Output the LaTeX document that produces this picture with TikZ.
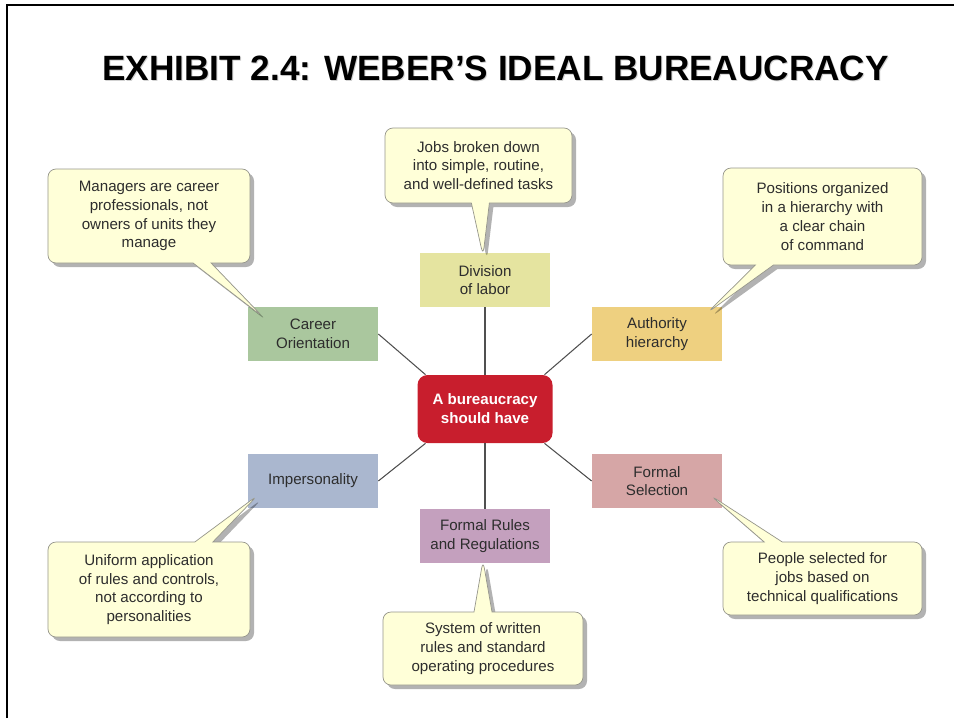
\documentclass[tikz,border=0pt]{standalone}
\usepackage{fontspec}
\setmainfont{Liberation Sans}
\usetikzlibrary{shapes.callouts,shadows}
\definecolor{noteColor}{RGB}{255,255,216}
\definecolor{noteEdge}{RGB}{150,150,140}
\definecolor{textColor}{RGB}{45,45,45}
\definecolor{lineColor}{RGB}{80,80,80}
\definecolor{redColor}{RGB}{200,30,45}
\definecolor{divisionColor}{RGB}{229,228,160}
\definecolor{careerColor}{RGB}{170,199,158}
\definecolor{authorityColor}{RGB}{238,208,128}
\definecolor{impersonalColor}{RGB}{170,183,207}
\definecolor{selectionColor}{RGB}{214,166,166}
\definecolor{rulesColor}{RGB}{196,160,190}
\tikzstyle{sheet} = [x = 0.2mm, y = -0.2mm]
\tikzstyle{titleStyle} = [font=\fontsize{20}{24}\selectfont\bfseries, inner sep=0pt]
\tikzstyle{boxText} = [font=\fontsize{8.6}{10.7}\selectfont, text=textColor, align=center]
\tikzstyle{categoryStyle} = [boxText, minimum width=26mm, minimum height=10.8mm, inner sep=0pt]
\tikzstyle{centerStyle} = [fill=redColor, rounded corners=2mm, minimum width=27mm, minimum height=13.6mm, inner sep=0pt, text=white, font=\fontsize{8.6}{10.8}\selectfont\bfseries, align=center]
\tikzstyle{noteStyle} = [rectangle callout, boxText, fill=noteColor, draw=noteEdge, rounded corners=1.6mm, callout pointer width=3.6mm, inner sep=0pt, drop shadow={shadow xshift=0.8mm, shadow yshift=-0.8mm, fill=black, opacity=0.3}]
\tikzstyle{spoke} = [draw=lineColor, line width=0.6pt]
\newcommand{\categoryBox}[5]{\node [categoryStyle, fill=#4] (#1) at (#2,#3) {#5};}
\newcommand{\noteBox}[7]{\node [noteStyle, minimum width=#4, minimum height=#5, callout absolute pointer={(#6)}] (#1) at (#2,#3) {#7};}

\begin{document}
\begin{tikzpicture}[sheet]
        \useasboundingbox (0,0) rectangle (954,718);
        \draw [line width=0.45mm] (7,718) -- (7,5) -- (954,5);

        \node [titleStyle, text=gray!35] (titleShadow) at (496.5,69.5) {EXHIBIT 2.4: WEBER’S IDEAL BUREAUCRACY};
        \node [titleStyle] (title) at (495.5,68.5) {EXHIBIT 2.4: WEBER’S IDEAL BUREAUCRACY};

        \node [centerStyle] (red) at (485,409) {A bureaucracy\\should have};
        \categoryBox{division}{485}{280}{divisionColor}{Division\\of labor}
        \categoryBox{career}{313}{334}{careerColor}{Career\\Orientation}
        \categoryBox{authority}{657}{334}{authorityColor}{Authority\\hierarchy}
        \categoryBox{impersonal}{313}{481}{impersonalColor}{Impersonality}
        \categoryBox{selection}{657}{481}{selectionColor}{Formal\\Selection}
        \categoryBox{rules}{485}{536}{rulesColor}{Formal Rules\\and Regulations}

        \draw [spoke] (division) -- (red);
        \draw [spoke] (red) -- (rules);
        \draw [spoke] (red.150) -- (career.east);
        \draw [spoke] (red.30) -- (authority.west);
        \draw [spoke] (red.210) -- (impersonal.east);
        \draw [spoke] (red.330) -- (selection.west);

        \coordinate (careerTip) at ([shift={(15,10)}]career.north west);
        \coordinate (divisionTip) at ([shift={(-2,3)}]division.north);
        \coordinate (authorityTip) at ([shift={(-15,6)}]authority.north east);
        \coordinate (impersonalTip) at ([shift={(10,-13)}]impersonal.south west);
        \coordinate (selectionTip) at ([shift={(-12,-13)}]selection.south east);
        \coordinate (rulesTip) at ([shift={(-2,-3)}]rules.south);

        \noteBox{careerNote}{149}{216}{40.4mm}{18.8mm}{careerTip}{Managers are career\\professionals, not\\owners of units they\\manage}
        \noteBox{divisionNote}{478.5}{165.5}{37.4mm}{15mm}{divisionTip}{Jobs broken down\\into simple, routine,\\and well-defined tasks}
        \noteBox{authorityNote}{822.5}{216.5}{39.8mm}{19.4mm}{authorityTip}{Positions organized\\in a hierarchy with\\a clear chain\\of command}
        \noteBox{impersonalNote}{149}{589.5}{40.4mm}{19mm}{impersonalTip}{Uniform application\\of rules and controls,\\not according to\\personalities}
        \noteBox{selectionNote}{822.5}{578.5}{39.8mm}{14.6mm}{selectionTip}{People selected for\\jobs based on\\technical qualifications}
        \noteBox{rulesNote}{483}{648.5}{40mm}{14.6mm}{rulesTip}{System of written\\rules and standard\\operating procedures}
      \end{tikzpicture}
\end{document}
